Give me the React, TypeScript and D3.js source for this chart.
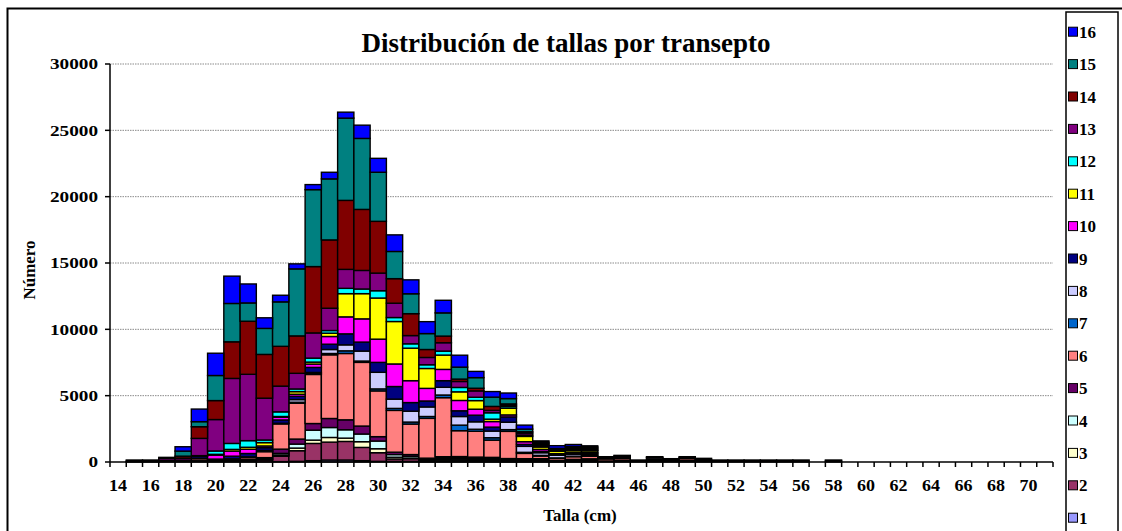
import React from "react";
import * as d3 from "d3";

// Categories: talla (cm) 14..71
const categories: number[] = d3.range(14, 72);
const tickLabels: number[] = d3.range(14, 71, 2);
const yTicks: number[] = [0, 5000, 10000, 15000, 20000, 25000, 30000];
const seriesNames: string[] = ["1","2","3","4","5","6","7","8","9","10","11","12","13","14","15","16"];
const seriesColors: string[] = ["#9999FF","#993366","#FFFFCC","#CCFFFF","#660066","#FF8080","#0066CC","#CCCCFF","#000080","#FF00FF","#FFFF00","#00FFFF","#800080","#800000","#008080","#0000FF"];

const pad = (a: number[]) => a.concat(Array(58 - a.length).fill(0));

// values per series, starting at talla 14
const s1 = pad([0,0,0,0,0,0,0,0,0,0, 30,50,100,150,150,100,50,50,50,20, 40,30,30,30,20,30,30,20,30,30]);
const s2 = pad([0,30,30,60,0,60,60,60,80,150, 400,800,1300,1350,1400,1000,650,180,200,60, 100,100,80,60,60,60,60,30,60,60, 80,100,70,80,80,100,100,70,70,70, 70,70,70,0,70]);
const s3 = pad([0,0,0,0,0,0,0,0,40,40, 100,200,250,350,250,430,300,130,50,50, 60,80,60,60,40,40,40,20,30,40]);
const s4 = pad([0,0,0,0,0,0,0,0,0,40, 120,300,750,750,630,580,580,200,130,100, 100,100,100,100,60,60,60,30,40,60]);
const s5 = pad([0,0,0,0,80,80,70,100,60,100, 320,380,500,680,750,600,330,180,130,60, 100,100,100,100,80,60,60,30,40,50]);
const s6 = pad([0,40,40,60,0,130,0,80,150,450, 1900,2700,3700,4800,5000,4800,3450,3150,2300,3000, 4450,1950,1950,1300,2050,400,200,150,200,200, 150,150,80,100,100,150,100,80,80,80, 80,80,80,0,80]);
const s7 = pad([0,0,0,0,0,0,0,0,0,40, 0,75,50,100,200,100,150,150,150,140, 200,420,150,180,130,80,50,30,40,40]);
const s8 = pad([0,0,0,0,0,0,0,0,60,60, 50,200,100,300,450,750,1250,700,820,720, 580,650,560,500,560,450,200,200,150,100, 50,60,0,120]);
const s9 = pad([0,0,0,0,60,150,90,200,250,200, 250,250,380,400,830,680,750,950,650,450, 500,430,500,300,400,150,100,60,80,80, 60]);
const s10 = pad([0,0,0,0,0,0,300,380,320,130, 200,150,250,580,1280,1750,1750,1700,1650,950, 850,780,450,420,150,200,150,60,80,60]);
const s11 = pad([0,0,0,0,0,0,60,130,150,250, 60,200,150,250,1750,1900,3100,3200,2450,1500, 1080,650,650,180,500,400,180,180,130,130, 0,60,0,0,0,70]);
const s12 = pad([0,0,0,0,0,60,250,450,500,200, 350,200,300,200,400,350,550,300,330,280, 300,330,250,480,130,100,60,40,50,50]);
const s13 = pad([0,80,80,150,150,1300,2370,4900,5000,3150, 1940,1180,1900,1680,1430,1400,1330,1080,620,550, 630,450,480,180,100,150,100,60,80,80, 60,80,0,50,70,80,76]);
const s14 = pad([0,0,0,80,150,880,1430,2760,4000,3300, 3000,2820,5000,5150,5200,4600,3900,1850,1650,600, 500,180,200,300,100,100,100,60,80,80]);
const s15 = pad([0,0,0,0,380,380,1890,2890,1380,1960, 3350,5050,5800,4600,6200,5350,3700,2050,1500,1200, 1750,900,800,700,400,200,100,60,80,80]);
const s16 = pad([0,0,0,0,330,950,1680,2060,1430,800, 500,380,380,500,450,1000,1050,1250,1050,900, 950,900,470,420,420,300,100,200,150,80, 0,50,0,50]);

const seriesValues: number[][] = [s1,s2,s3,s4,s5,s6,s7,s8,s9,s10,s11,s12,s13,s14,s15,s16];

const W = 1122, H = 531;
const X0 = 110, X1 = 1053, Y0 = 462, Y1 = 64;
const FONT = "'Liberation Serif', 'Times New Roman', serif";

export default function App() {
  const rows = categories.map((c, i) => {
    const r: any = { cat: c };
    seriesNames.forEach((n, k) => (r[n] = seriesValues[k][i]));
    return r;
  });
  const stack = d3.stack<any>().keys(seriesNames)(rows);
  const x = d3.scaleBand<number>().domain(categories).range([X0, X1]).padding(0);
  const y = d3.scaleLinear().domain([0, 30000]).range([Y0, Y1]);
  const bw = x.bandwidth();

  return (
    <svg width={W} height={H} style={{ position: "absolute", left: 0, top: 0, background: "#fff" }} fontFamily={FONT}>
      <rect x={0} y={0} width={W} height={H} fill="#fff" />
      <rect x={7.5} y={8.5} width={1300} height={700} fill="none" stroke="#000" strokeWidth={2} />
      <text x={566} y={52} textAnchor="middle" fontSize={27} fontWeight="bold">Distribución de tallas por transepto</text>
      {yTicks.filter((t) => t > 0).map((t) => (
        <line key={"g" + t} x1={X0} x2={X1} y1={y(t)} y2={y(t)} stroke="#8a8a8a" strokeWidth={1} strokeDasharray="1.5,1" />
      ))}
      {stack.map((layer, k) => (
        <g key={"s" + k} fill={seriesColors[k]}>
          {layer.map((d, i) => {
            const h = y(d[0]) - y(d[1]);
            if (h <= 0) return null;
            return (
              <rect key={i} x={x(categories[i])!} y={y(d[1])} width={bw} height={h} stroke="#000" strokeWidth={1.4} />
            );
          })}
        </g>
      ))}
      <line x1={X0} x2={X0} y1={Y1} y2={Y0} stroke="#000" strokeWidth={1.5} />
      <line x1={X0} x2={X1} y1={Y0} y2={Y0} stroke="#000" strokeWidth={1.5} />
      {yTicks.map((t) => {
        const s = String(t);
        return (
          <g key={"yt" + t}>
            <line x1={X0 - 5} x2={X0} y1={y(t)} y2={y(t)} stroke="#000" strokeWidth={1.5} />
            <text x={X0 - 12} y={y(t)} dy="0.35em" textAnchor="end" fontSize={15} fontWeight="bold"
              textLength={s.length * 9.6} lengthAdjust="spacingAndGlyphs">{s}</text>
          </g>
        );
      })}
      {categories.concat([72]).map((c, i) => (
        <line key={"xt" + i} x1={X0 + i * bw} x2={X0 + i * bw} y1={Y0} y2={Y0 + 5} stroke="#000" strokeWidth={1.5} />
      ))}
      {tickLabels.map((t) => (
        <text key={"xl" + t} x={x(t)! + bw / 2} y={491} textAnchor="middle" fontSize={17} fontWeight="bold"
          textLength={18} lengthAdjust="spacingAndGlyphs">{t}</text>
      ))}
      <text transform={`translate(35,270) rotate(-90)`} textAnchor="middle" fontSize={17} fontWeight="bold">Número</text>
      <text x={580} y={521} textAnchor="middle" fontSize={17} fontWeight="bold">Talla (cm)</text>
      <rect x={1066} y={12} width={52} height={600} fill="#fff" stroke="#000" strokeWidth={1.5} />
      {seriesNames.slice().reverse().map((n, i) => {
        const k = 15 - i;
        const cy = 31.7 + i * 32.4;
        return (
          <g key={"lg" + n}>
            <rect x={1068.5} y={cy - 4.5} width={9} height={9} fill={seriesColors[k]} stroke="#000" strokeWidth={1} />
            <text x={1079} y={cy} dy="0.36em" fontSize={17} fontWeight="bold">{n}</text>
          </g>
        );
      })}
    </svg>
  );
}
